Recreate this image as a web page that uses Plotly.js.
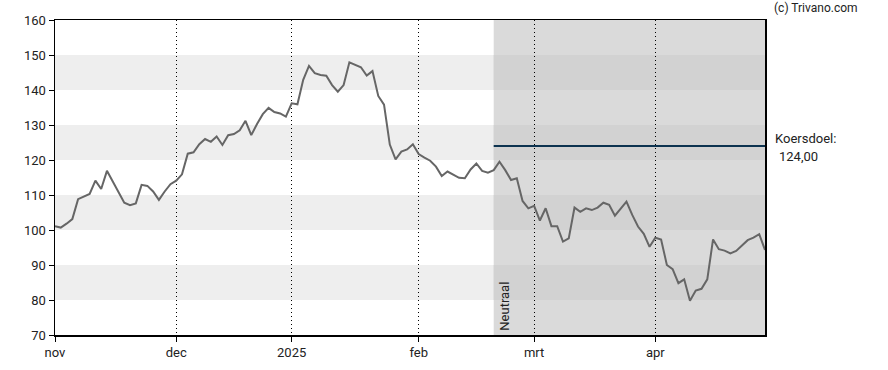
<!DOCTYPE html>
<html>
<head>
<meta charset="utf-8">
<script src="https://cdn.plot.ly/plotly-3.0.1.min.js"></script>
<style>html,body{margin:0;padding:0;background:#fff}#chart{width:888px;height:370px}</style>
</head>
<body>
<div id="chart"></div>
<script>
// Daily closing prices, one per trading day (1 Nov 2024 – 30 Apr 2025)
const prices = [
  101.1, 100.7, 101.8, 103.1, 108.8, 109.5, 110.3, 114.1, 111.7, 116.9,
  113.8, 110.5, 107.8, 107.1, 107.6, 112.9, 112.6, 111.0, 108.6, 111.0,
  113.1, 114.1, 115.9, 121.8, 122.2, 124.5, 126.0, 125.2, 126.7, 124.3,
  127.1, 127.4, 128.5, 131.2, 127.1, 130.3, 133.1, 134.9, 133.7, 133.3,
  132.4, 136.2, 135.9, 142.9, 146.9, 144.8, 144.3, 144.1, 141.4, 139.5,
  141.4, 147.9, 147.1, 146.5, 144.1, 145.4, 138.3, 135.8, 124.4, 120.2,
  122.4, 123.0, 124.5, 121.7, 120.7, 119.8, 118.1, 115.4, 116.7, 115.7,
  114.9, 114.8, 117.3, 119.0, 116.9, 116.4, 117.1, 119.5, 117.1, 114.3,
  114.8, 108.3, 106.2, 106.9, 102.7, 106.2, 101.1, 101.1, 96.7, 97.6,
  106.4, 105.2, 106.2, 105.7, 106.4, 107.8, 107.2, 104.1, 106.0, 108.1,
  104.3, 101.0, 98.9, 95.2, 97.8, 97.3, 90.0, 88.8, 84.8, 85.9,
  79.8, 82.7, 83.2, 85.9, 97.3, 94.5, 94.1, 93.3, 94.0, 95.7,
  97.1, 97.8, 98.8, 94.3
];
// Month starts (trading-day index) and their labels
const monthTickIndex = [0, 21, 41, 63, 83, 104];
const monthTickLabels = ['nov', 'dec', '2025', 'feb', 'mrt', 'apr'];
const yTicks = [70, 80, 90, 100, 110, 120, 130, 140, 150, 160];
const bandRanges = [[80, 90], [100, 110], [120, 130], [140, 150]];
const neutralStartIndex = 76;   // start of advice period
const adviceLabel = 'Neutraal';
const targetPrice = 124;
const targetLabel = 'Koersdoel:';
const targetText = '124,00';
const credit = '(c) Trivano.com';

const xIdx = prices.map((_, i) => i);
const lastIdx = prices.length - 1;

const shapes = [];
bandRanges.forEach(b => shapes.push({type: 'rect', layer: 'below', xref: 'paper', yref: 'y',
  x0: 0, x1: 1, y0: b[0], y1: b[1], fillcolor: '#eeeeee', line: {width: 0}}));
shapes.push({type: 'rect', layer: 'below', xref: 'x', yref: 'paper',
  x0: neutralStartIndex, x1: lastIdx, y0: 0, y1: 1, fillcolor: '#dadada', line: {width: 0}});
bandRanges.forEach(b => shapes.push({type: 'rect', layer: 'below', xref: 'x', yref: 'y',
  x0: neutralStartIndex, x1: lastIdx, y0: b[0], y1: b[1], fillcolor: '#d2d2d2', line: {width: 0}}));

const traces = [
  {x: xIdx, y: prices, type: 'scatter', mode: 'lines',
   line: {color: '#666666', width: 2}, hoverinfo: 'skip'},
  {x: [neutralStartIndex, lastIdx], y: [targetPrice, targetPrice], type: 'scatter', mode: 'lines',
   line: {color: '#0d3350', width: 2}, hoverinfo: 'skip'}
];

const font = {family: 'Roboto, Arial, sans-serif', size: 13, color: '#222'};

const layout = {
  width: 888, height: 370,
  margin: {l: 55, r: 123, t: 20, b: 35},
  paper_bgcolor: '#ffffff', plot_bgcolor: '#ffffff',
  showlegend: false,
  font: font,
  xaxis: {
    range: [0, lastIdx], tickvals: monthTickIndex, ticktext: monthTickLabels,
    showgrid: true, gridcolor: '#000000', gridwidth: 1, griddash: '1px,3px',
    showline: true, linecolor: '#000', linewidth: 1.5, mirror: true,
    ticks: 'outside', ticklen: 5, tickcolor: '#000', zeroline: false,
    tickfont: font, fixedrange: true
  },
  yaxis: {
    range: [70, 160], tickvals: yTicks, showgrid: false,
    showline: true, linecolor: '#000', linewidth: 1.5, mirror: true,
    ticks: 'outside', ticklen: 5, tickcolor: '#000', zeroline: false,
    tickfont: font, fixedrange: true
  },
  shapes: shapes,
  annotations: [
    {text: credit, xref: 'paper', yref: 'paper', x: 1, y: 1, xanchor: 'left', yanchor: 'middle',
     xshift: 7, yshift: 12, showarrow: false, font: {family: font.family, size: 12, color: '#222'}},
    {text: targetLabel, xref: 'paper', yref: 'y', x: 1, y: targetPrice, xanchor: 'left', yanchor: 'middle',
     xshift: 8, yshift: 8, showarrow: false, font: font},
    {text: targetText, xref: 'paper', yref: 'y', x: 1, y: targetPrice, xanchor: 'left', yanchor: 'middle',
     xshift: 12, yshift: -10, showarrow: false, font: font},
    {text: adviceLabel, xref: 'x', yref: 'y', x: neutralStartIndex, y: 70, xanchor: 'left', yanchor: 'bottom',
     xshift: 1, yshift: 2, textangle: -90, showarrow: false, font: font}
  ]
};

Plotly.newPlot('chart', traces, layout, {staticPlot: true, displayModeBar: false});
</script>
</body>
</html>
